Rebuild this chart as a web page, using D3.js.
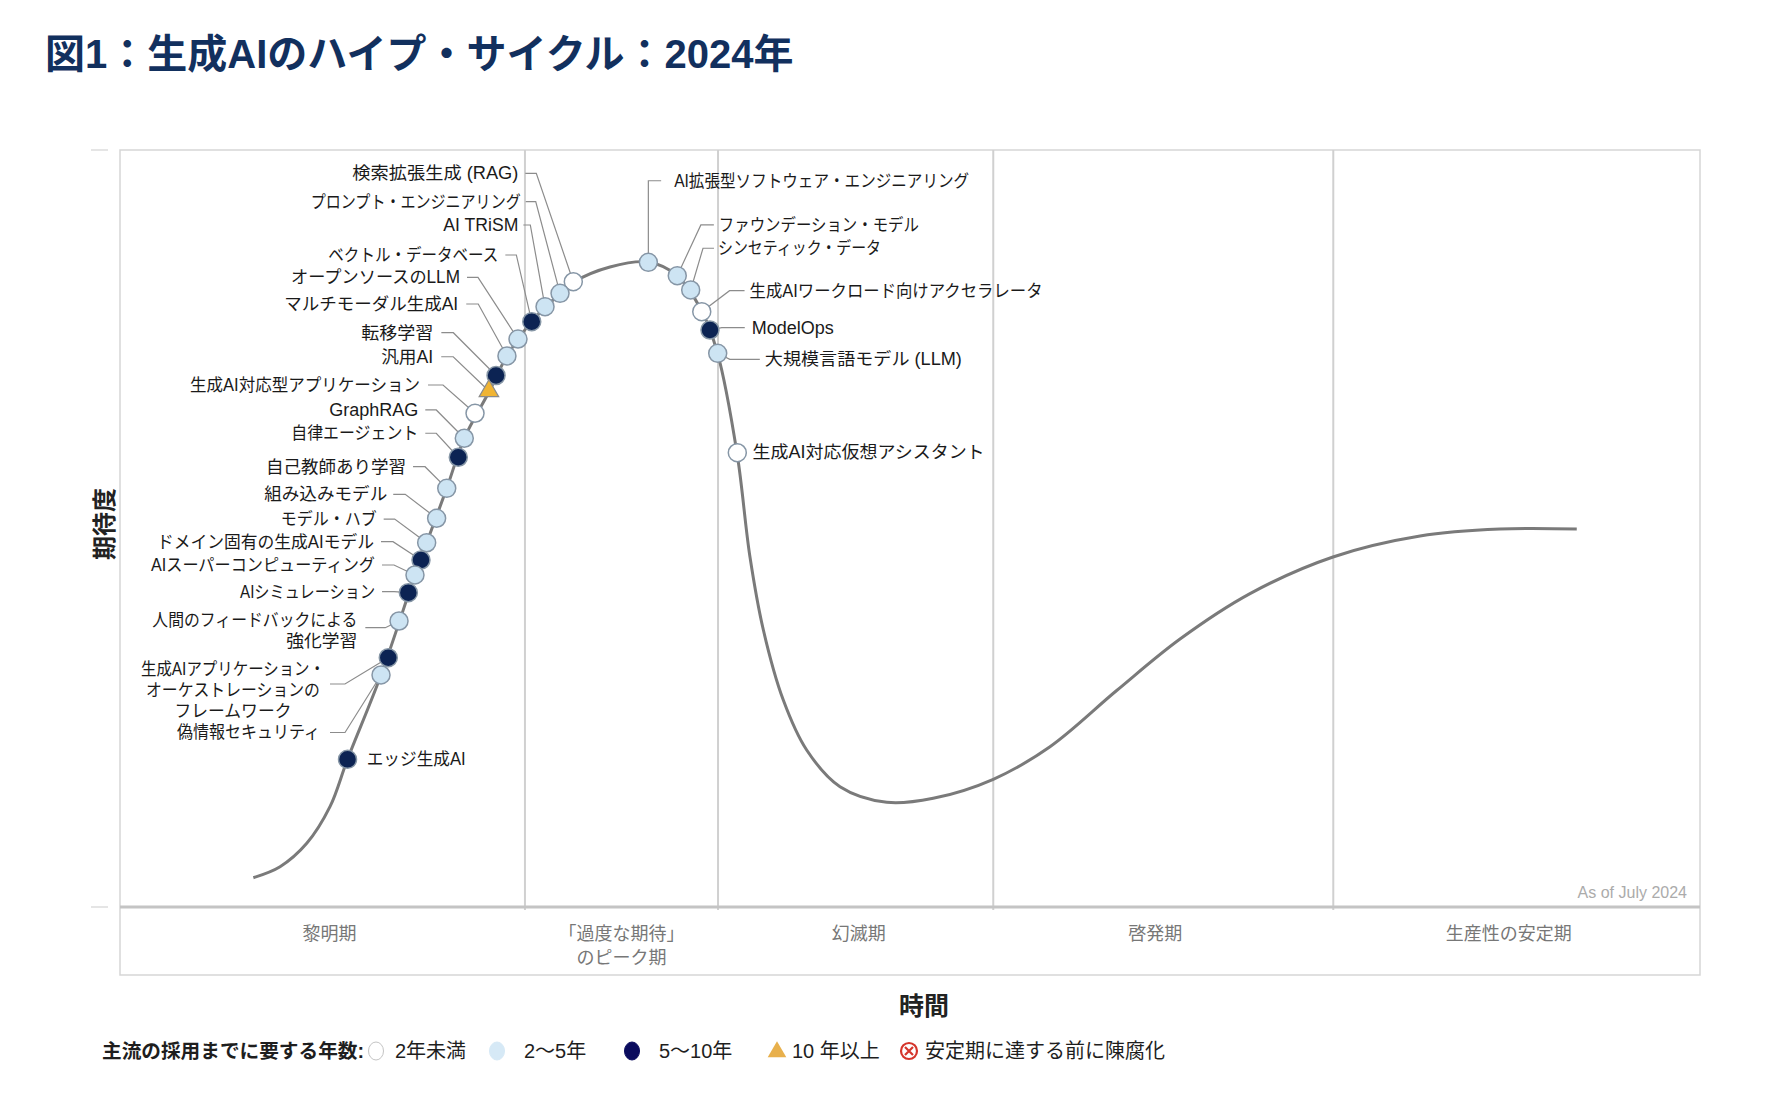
<!DOCTYPE html>
<html><head><meta charset="utf-8">
<script src="https://cdn.jsdelivr.net/npm/d3@7"></script>
<style>
html,body{margin:0;padding:0;background:#fff;}
svg{display:block;}
text{font-family:'Liberation Sans','Noto Sans CJK JP',sans-serif;}
</style></head><body>
<svg id="chart" width="1782" height="1100"></svg>
<script>
// ---------------- DATA ----------------
const titleText = "図1：生成AIのハイプ・サイクル：2024年";
const yAxisTitle = "期待度";
const xAxisTitle = "時間";
const asOfText = "As of July 2024";

// phase boundaries on the time axis (0-100) and names
const phaseBounds = [0, 25.63, 37.85, 55.27, 76.79, 100];
const phaseNames = [["黎明期"], ["「過度な期待」", "のピーク期"], ["幻滅期"], ["啓発期"], ["生産性の安定期"]];

// hype-cycle curve (time, expectations)
const curveTime   = [8.44, 10.13, 11.82, 13.29, 14.40, 16.52, 18.67, 19.41, 20.68, 21.79, 23.35, 24.49, 26.08, 27.82, 28.73, 31.01, 33.42, 35.25, 36.84, 37.82, 39.05, 39.87, 40.72, 41.98, 43.46, 45.57, 48.53, 51.47, 55.27, 58.86, 63.08, 67.09, 71.52, 76.77, 82.28, 87.34, 92.20];
const curveExpect = [3.87, 5.32, 8.41, 13.25, 19.51, 30.65, 43.86, 48.12, 55.31, 61.92, 68.03, 72.79, 77.41, 80.98, 82.56, 84.54, 85.20, 83.42, 78.64, 73.14, 59.97, 46.27, 36.59, 27.34, 20.74, 15.89, 13.83, 14.36, 16.87, 21.18, 28.60, 35.40, 41.40, 46.24, 49.01, 49.93, 49.93];

// technologies
const techNames = [
  "検索拡張生成 (RAG)", "プロンプト・エンジニアリング", "AI TRiSM", "ベクトル・データベース",
  "オープンソースのLLM", "マルチモーダル生成AI", "転移学習", "汎用AI", "生成AI対応型アプリケーション",
  "GraphRAG", "自律エージェント", "自己教師あり学習", "組み込みモデル", "モデル・ハブ",
  "ドメイン固有の生成AIモデル", "AIスーパーコンピューティング", "AIシミュレーション",
  "人間のフィードバックによる\n強化学習", "生成AIアプリケーション・\nオーケストレーションの\nフレームワーク",
  "偽情報セキュリティ", "エッジ生成AI",
  "AI拡張型ソフトウェア・エンジニアリング", "ファウンデーション・モデル", "シンセティック・データ",
  "生成AIワークロード向けアクセラレータ", "ModelOps", "大規模言語モデル (LLM)", "生成AI対応仮想アシスタント"
];
const techTime   = [28.69, 27.85, 26.90, 26.06, 25.19, 24.49, 23.80, 23.35, 22.47, 21.79, 21.41, 20.68, 20.04, 19.41, 19.05, 18.67, 18.25, 17.66, 16.98, 16.52, 14.40, 33.44, 35.27, 36.12, 36.82, 37.34, 37.83, 39.07];
const techExpect = [82.60, 81.07, 79.30, 77.32, 75.03, 72.79, 70.21, 68.16, 65.22, 61.92, 59.41, 55.31, 51.35, 48.12, 45.84, 43.86, 41.52, 37.78, 32.93, 30.65, 19.51, 85.16, 83.40, 81.51, 78.64, 76.22, 73.14, 60.01];
const techYears  = ["lt2","2to5","2to5","5to10","2to5","2to5","5to10","gt10","lt2","2to5","5to10","2to5","2to5","2to5","5to10","2to5","5to10","2to5","5to10","2to5","5to10","2to5","2to5","2to5","lt2","5to10","2to5","lt2"];

// legend
const legendTitle = "主流の採用までに要する年数:";
const legendKeys   = ["lt2", "2to5", "5to10", "gt10", "obsolete"];
const legendLabels = ["2年未満", "2〜5年", "5〜10年", "10 年以上", "安定期に達する前に陳腐化"];

// ---------------- LAYOUT / STYLE ----------------
const W = 1782, H = 1100;
const P = {left: 120, right: 1700, top: 150, axis: 907, bottom: 975};
const x = d3.scaleLinear().domain([0, 100]).range([P.left, P.right]);
const y = d3.scaleLinear().domain([0, 100]).range([P.axis, P.top]);

const fills = {lt2: "#ffffff", "2to5": "#cde4f3", "5to10": "#0c2353", gt10: "#f0b433"};
const legendFills = {lt2: "#ffffff", "2to5": "#d6e9f6", "5to10": "#0a0b5e", gt10: "#e8b04c"};
const phaseShift = [7, 0, 3, -8, -8];

// label placement relative to each marker (pixels)
const labelLayout = [
  {dx:-55,   dy:-108.4, anchor:"end", near:7, far:18},
  {dx:-39.3, dy:-91.6,  anchor:"end", near:5, far:15},
  {dx:-26.7, dy:-81.7,  anchor:"end", near:5, far:12},
  {dx:-33.4, dy:-66.7,  anchor:"end", near:7, far:18},
  {dx:-58,   dy:-61.7,  anchor:"end", near:7, far:18},
  {dx:-48.7, dy:-52,    anchor:"end", near:8, far:20},
  {dx:-62.7, dy:-42.8,  anchor:"end", near:8, far:20},
  {dx:-55.7, dy:-34.3,  anchor:"end", near:8, far:20},
  {dx:-55,   dy:-28.3,  anchor:"end", near:8, far:23},
  {dx:-46,   dy:-28.3,  anchor:"end", near:7, far:18},
  {dx:-40,   dy:-24,    anchor:"end", near:7, far:18},
  {dx:-40.7, dy:-21.6,  anchor:"end", near:7, far:19},
  {dx:-49.4, dy:-24,    anchor:"end", near:6, far:18},
  {dx:-50,   dy:-23.7,  anchor:"end", near:7, far:18},
  {dx:-47,   dy:-18.3,  anchor:"end", near:7, far:19},
  {dx:-40,   dy:-10,    anchor:"end", near:7, far:19},
  {dx:-33.3, dy:-1,     anchor:"end", near:7, far:19},
  {dx:-41.7, dy:6.7,    anchor:"end", near:8, far:28, lines:[-7.7, 13]},
  {dx:-58.3, dy:26.3,   anchor:"middle", tx:-97, near:0, far:15, lines:[-15, 6, 27]},
  {dx:-61,   dy:57.5,   anchor:"end", near:10, far:25},
  {dx:19.2,  dy:0,      anchor:"start"},
  {dx:25.8,  dy:-81.6,  anchor:"start", near:13, vertical:true},
  {dx:41.6,  dy:-50.7,  anchor:"start", near:5, far:18},
  {dx:27.3,  dy:-41.7,  anchor:"start", near:4, far:15},
  {dx:47.8,  dy:-21,    anchor:"start", near:5, far:20},
  {dx:41.8,  dy:-2.3,   anchor:"start", near:7, far:30},
  {dx:47.1,  dy:6,      anchor:"start", near:5, far:35},
  {dx:15.3,  dy:-1,     anchor:"start"}
];
// rendered width of each label line as it appears in the picture (pixels)
const labelWidths = [[166],[210],[75],[170],[169],[174],[72],[52],[230],[89],[127],[140],[123],[96],[217],[224],[135],[205,71],[184,174,117],[143],[99],[295],[200],[163],[293],[82],[197],[232]];

// ---------------- DRAW ----------------
const svg = d3.select("#chart");
svg.append("rect").attr("width", W).attr("height", H).attr("fill", "#fff");

// title
svg.append("text").attr("x", 45).attr("y", 54).attr("dominant-baseline", "central")
  .attr("font-size", 40).attr("font-weight", 700).attr("fill", "#12305e")
  .text(titleText);

// frame
svg.append("rect").attr("x", P.left).attr("y", P.top)
  .attr("width", P.right - P.left).attr("height", P.bottom - P.top)
  .attr("fill", "none").attr("stroke", "#d6d6d6").attr("stroke-width", 1.5);

// left tick stubs
[100, 0].forEach(v => {
  svg.append("line").attr("x1", 91).attr("x2", 108).attr("y1", y(v)).attr("y2", y(v))
    .attr("stroke", "#dddddd").attr("stroke-width", 1.5);
});

// phase dividers
svg.append("g").selectAll("line").data(phaseBounds.slice(1, -1)).join("line")
  .attr("x1", d => x(d)).attr("x2", d => x(d))
  .attr("y1", P.top).attr("y2", P.axis + 3)
  .attr("stroke", "#d0d0d0").attr("stroke-width", 2);

// baseline
svg.append("line").attr("x1", P.left).attr("x2", P.right).attr("y1", P.axis).attr("y2", P.axis)
  .attr("stroke", "#c4c4c4").attr("stroke-width", 3);

// phase labels
const phaseG = svg.append("g");
phaseNames.forEach((lines, i) => {
  const cx = x((phaseBounds[i] + phaseBounds[i + 1]) / 2) + phaseShift[i];
  lines.forEach((ln, j) => {
    phaseG.append("text").attr("x", cx).attr("y", 934 + j * 24)
      .attr("text-anchor", "middle").attr("dominant-baseline", "central")
      .attr("font-size", 18).attr("fill", "#777").text(ln);
  });
});

// as of
svg.append("text").attr("x", 1687).attr("y", 892).attr("text-anchor", "end")
  .attr("dominant-baseline", "central").attr("font-size", 16).attr("fill", "#ababab")
  .text(asOfText);

// axis titles
svg.append("text").attr("transform", `translate(104,524) rotate(-90)`)
  .attr("text-anchor", "middle").attr("dominant-baseline", "central")
  .attr("font-size", 24).attr("font-weight", 700).attr("fill", "#222").text(yAxisTitle);
svg.append("text").attr("x", 924).attr("y", 1006).attr("text-anchor", "middle")
  .attr("dominant-baseline", "central").attr("font-size", 25).attr("font-weight", 700)
  .attr("fill", "#222").text(xAxisTitle);

// curve
const curvePts = curveTime.map((t, i) => [t, curveExpect[i]]);
svg.append("path").datum(curvePts)
  .attr("d", d3.line().x(d => x(d[0])).y(d => y(d[1])).curve(d3.curveCatmullRom.alpha(0.5)))
  .attr("fill", "none").attr("stroke", "#7a7a7a").attr("stroke-width", 3);

// technologies
const techs = techNames.map((n, i) => ({name: n, t: techTime[i], e: techExpect[i], yr: techYears[i], L: labelLayout[i], w: labelWidths[i]}));

const leaderG = svg.append("g");
const markG = svg.append("g");
const labelG = svg.append("g");

techs.forEach(d => {
  const mx = x(d.t), my = y(d.e);
  const L = d.L;
  const ax = mx + L.dx, ay = my + L.dy;
  if (L.near !== undefined) {
    let pts;
    if (L.vertical) pts = [[mx, my], [mx, ay], [ax - L.near, ay]];
    else if (L.anchor === "start") pts = [[mx, my], [ax - L.far, ay], [ax - L.near, ay]];
    else pts = [[mx, my], [ax + L.far, ay], [ax + L.near, ay]];
    leaderG.append("path").attr("d", d3.line()(pts))
      .attr("fill", "none").attr("stroke", "#8c8c8c").attr("stroke-width", 1.2);
  }
  if (d.yr === "gt10") {
    markG.append("path").attr("d", d3.symbol(d3.symbolTriangle, 165)())
      .attr("transform", `translate(${mx},${my})`)
      .attr("fill", fills.gt10).attr("stroke", "#8a8a8a").attr("stroke-width", 1.2);
  } else {
    markG.append("circle").attr("cx", mx).attr("cy", my).attr("r", 9)
      .attr("fill", fills[d.yr]).attr("stroke", "#8696a6").attr("stroke-width", 1.5);
  }
  const lines = d.name.split("\n");
  const offs = L.lines || [0];
  const tx = ax + (L.tx || 0);
  lines.forEach((ln, j) => {
    labelG.append("text").attr("x", tx).attr("y", ay + offs[j])
      .attr("text-anchor", L.anchor).attr("dominant-baseline", "central")
      .attr("font-size", 17.5).attr("fill", "#1a1a1a")
      .attr("textLength", d.w[j]).attr("lengthAdjust", "spacingAndGlyphs")
      .text(ln);
  });
});

// legend
const LY = 1051;
const lg = svg.append("g");
lg.append("text").attr("x", 102).attr("y", LY).attr("dominant-baseline", "central")
  .attr("font-size", 19.5).attr("font-weight", 700).attr("fill", "#1e1e1e")
  .attr("textLength", 262).attr("lengthAdjust", "spacingAndGlyphs").text(legendTitle);
const legendSymX = [376, 497, 632, 777, 909];
const legendTextX = [395, 524, 659, 792, 925];
legendKeys.forEach((k, i) => {
  const sx = legendSymX[i];
  if (k === "gt10") {
    lg.append("path").attr("d", d3.symbol(d3.symbolTriangle, 150)())
      .attr("transform", `translate(${sx},${LY + 1})`).attr("fill", legendFills.gt10);
  } else if (k === "obsolete") {
    lg.append("circle").attr("cx", sx).attr("cy", LY).attr("r", 8)
      .attr("fill", "#fff").attr("stroke", "#d5352b").attr("stroke-width", 2.2);
    lg.append("path").attr("d", `M${sx-4},${LY-4}L${sx+4},${LY+4}M${sx+4},${LY-4}L${sx-4},${LY+4}`)
      .attr("stroke", "#d5352b").attr("stroke-width", 2.2);
  } else {
    lg.append("ellipse").attr("cx", sx).attr("cy", LY).attr("rx", 7.5).attr("ry", 9)
      .attr("fill", legendFills[k]).attr("stroke", k === "lt2" ? "#c4c4c4" : legendFills[k]).attr("stroke-width", 1);
  }
  lg.append("text").attr("x", legendTextX[i]).attr("y", LY).attr("dominant-baseline", "central")
    .attr("font-size", 20).attr("fill", "#1e1e1e").text(legendLabels[i]);
});
</script>
</body></html>
